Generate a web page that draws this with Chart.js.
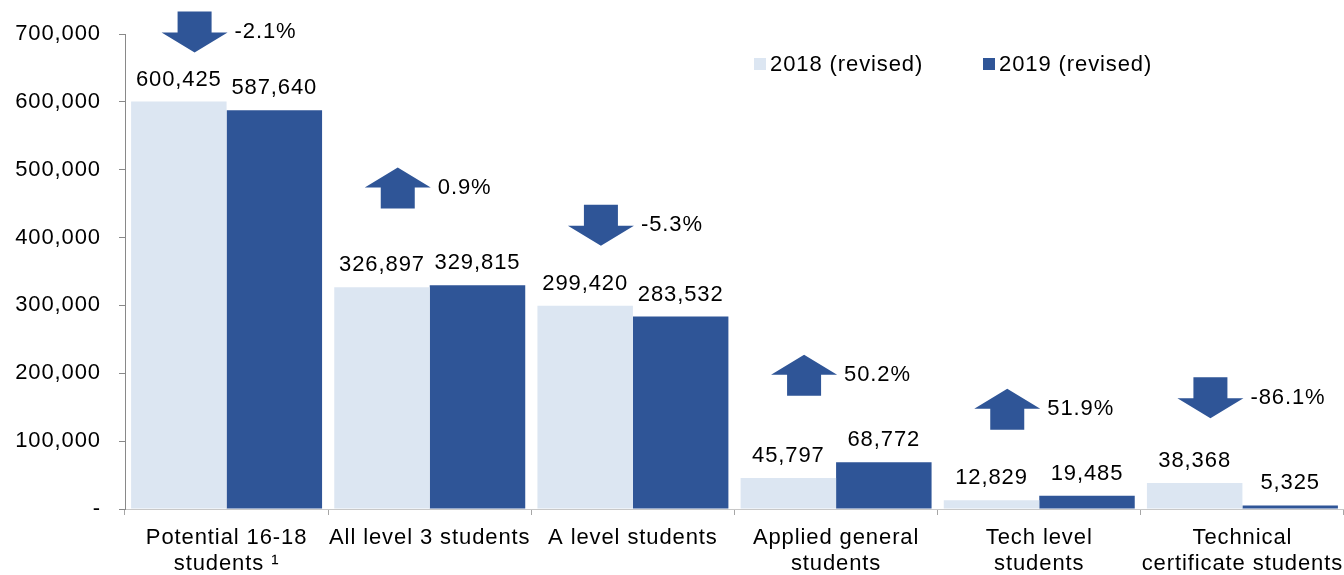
<!DOCTYPE html>
<html>
<head>
<meta charset="utf-8">
<script src="https://cdn.jsdelivr.net/npm/chart.js@4"></script>
<style>
  html, body { margin: 0; padding: 0; background: #fff; }
  #wrap { width: 1344px; height: 575px; }
</style>
</head>
<body>
<div id="wrap"><canvas id="chart"></canvas></div>
<script>
const categories = [
    ['Potential 16-18', 'students \u00b9'],
    'All level 3 students',
    'A level students',
    ['Applied general', 'students'],
    ['Tech level', 'students'],
    ['Technical', 'certificate students']
];
const values2018 = [600425, 326897, 299420, 45797, 12829, 38368];
const values2019 = [587640, 329815, 283532, 68772, 19485, 5325];
const changeLabels = ['-2.1%', '0.9%', '-5.3%', '50.2%', '51.9%', '-86.1%'];
const changeUp = [false, true, false, true, true, false];
const arrowLevel = [703000, 473000, 418000, 197000, 147000, 164000]; // where each arrow sits
const seriesNames = ['2018 (revised)', '2019 (revised)'];
const yTicks = [0, 100000, 200000, 300000, 400000, 500000, 600000, 700000];

const LIGHT = '#dce6f2';
const DARK = '#2f5597';
const FONT = "'Liberation Sans', Arial, sans-serif";
const SPACING = '0.9px';

function fmt(v) {
    return v.toLocaleString('en-US');
}

// the original text is a bit wider than Arial, spread it a little
const wideText = {
    id: 'wideText',
    beforeUpdate(chart) { chart.ctx.letterSpacing = SPACING; },
    beforeLayout(chart) { chart.ctx.letterSpacing = SPACING; },
    beforeDraw(chart) { chart.ctx.letterSpacing = SPACING; }
};

// value labels above each bar
const valueLabels = {
    id: 'valueLabels',
    afterDatasetsDraw(chart) {
        const ctx = chart.ctx;
        ctx.save();
        ctx.font = '22px ' + FONT;
        ctx.fillStyle = '#000';
        ctx.textAlign = 'center';
        ctx.textBaseline = 'bottom';
        chart.data.datasets.forEach((ds, i) => {
            chart.getDatasetMeta(i).data.forEach((bar, j) => {
                ctx.fillText(fmt(ds.data[j]), bar.x, bar.y - 11);
            });
        });
        ctx.restore();
    }
};

// change arrows with percentages
const changeArrows = {
    id: 'changeArrows',
    afterDraw(chart) {
        const ctx = chart.ctx;
        const x = chart.scales.x, y = chart.scales.y;
        ctx.save();
        changeLabels.forEach((txt, i) => {
            const cx = x.getPixelForValue(i) - 32;
            const cy = y.getPixelForValue(arrowLevel[i]);
            const h = 41, shaft = 17, head = 33, split = 20;
            const top = cy - h / 2, bot = cy + h / 2;
            ctx.fillStyle = DARK;
            ctx.beginPath();
            if (changeUp[i]) {
                ctx.moveTo(cx, top);
                ctx.lineTo(cx + head, top + split);
                ctx.lineTo(cx + shaft, top + split);
                ctx.lineTo(cx + shaft, bot);
                ctx.lineTo(cx - shaft, bot);
                ctx.lineTo(cx - shaft, top + split);
                ctx.lineTo(cx - head, top + split);
            } else {
                ctx.moveTo(cx - shaft, top);
                ctx.lineTo(cx + shaft, top);
                ctx.lineTo(cx + shaft, bot - split);
                ctx.lineTo(cx + head, bot - split);
                ctx.lineTo(cx, bot);
                ctx.lineTo(cx - head, bot - split);
                ctx.lineTo(cx - shaft, bot - split);
            }
            ctx.closePath();
            ctx.fill();

            ctx.fillStyle = '#000';
            ctx.font = '22px ' + FONT;
            ctx.textAlign = 'left';
            ctx.textBaseline = 'middle';
            ctx.fillText(txt, cx + 40, cy);
        });
        ctx.restore();
    }
};

// legend drawn inside the plot
const innerLegend = {
    id: 'innerLegend',
    afterDraw(chart) {
        const ctx = chart.ctx;
        ctx.save();
        ctx.font = '22px ' + FONT;
        ctx.textBaseline = 'middle';
        ctx.textAlign = 'left';
        const starts = [754, 983];
        const colors = [LIGHT, DARK];
        seriesNames.forEach((name, i) => {
            ctx.fillStyle = colors[i];
            ctx.fillRect(starts[i], 58, 12, 12);
            ctx.fillStyle = '#000';
            ctx.fillText(name, starts[i] + 16, 65);
        });
        ctx.restore();
    }
};

const ctx = document.getElementById('chart').getContext('2d');
const chart = new Chart(ctx, {
    type: 'bar',
    data: {
        labels: categories,
        datasets: [
            { label: seriesNames[0], data: values2018, backgroundColor: LIGHT },
            { label: seriesNames[1], data: values2019, backgroundColor: DARK }
        ]
    },
    options: {
        responsive: true,
        maintainAspectRatio: false,
        animation: false,
        layout: { padding: { top: 34, left: 0, right: 0, bottom: 0 } },
        plugins: {
            legend: { display: false },
            tooltip: { enabled: false }
        },
        datasets: {
            bar: { categoryPercentage: 0.94, barPercentage: 1.0 }
        },
        scales: {
            x: {
                grid: {
                    display: true,
                    drawOnChartArea: false,
                    offset: true,
                    tickLength: 6,
                    color: '#a6a6a6'
                },
                border: { color: '#c8c8c8' },
                ticks: {
                    color: '#000',
                    font: { family: FONT, size: 22, lineHeight: 1.18 },
                    maxRotation: 0,
                    autoSkip: false,
                    padding: 10
                },
                afterFit(s) {
                    s.height = 66;
                    s.paddingLeft = 0;
                    s.paddingRight = 0;
                }
            },
            y: {
                min: 0,
                max: 700000,
                afterBuildTicks(s) { s.ticks = yTicks.map(v => ({ value: v })); },
                grid: {
                    display: true,
                    drawOnChartArea: false,
                    tickLength: 6,
                    color: '#898989'
                },
                border: { color: '#898989' },
                ticks: {
                    color: '#000',
                    font: { family: FONT, size: 22 },
                    padding: 18,
                    callback: v => v === 0 ? '-' : fmt(v)
                },
                afterFit(s) { s.width = 125; }
            }
        }
    },
    plugins: [wideText, valueLabels, changeArrows, innerLegend]
});
</script>
</body>
</html>
